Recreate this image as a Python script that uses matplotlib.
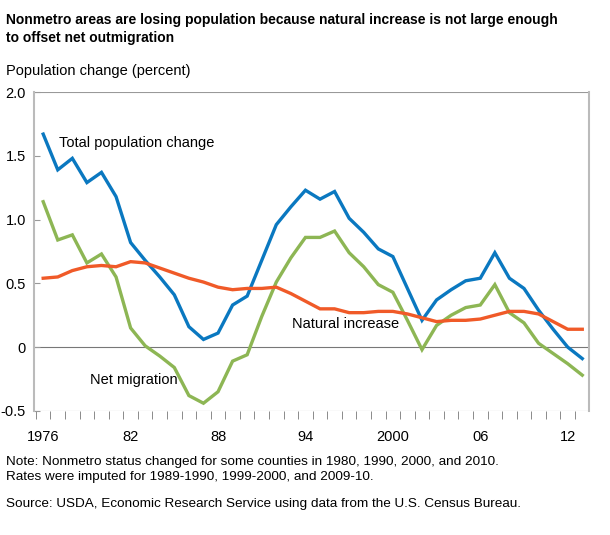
import numpy as np
from matplotlib import pyplot as plt

# Série annuelle 1976-2013 (points tracés en milieu d'année)
years = list(range(1976, 2014))
total_change = [1.67, 1.39, 1.48, 1.29, 1.37, 1.18, 0.82, 0.68, 0.55, 0.41,
                0.16, 0.06, 0.11, 0.33, 0.40, 0.68, 0.96, 1.10, 1.23, 1.16,
                1.22, 1.01, 0.90, 0.77, 0.71, 0.46, 0.21, 0.37, 0.45, 0.52,
                0.54, 0.74, 0.54, 0.46, 0.29, 0.14, 0.00, -0.09]
net_migration = [1.14, 0.84, 0.88, 0.66, 0.73, 0.55, 0.15, 0.01, -0.07, -0.16,
                 -0.38, -0.44, -0.35, -0.11, -0.06, 0.24, 0.51, 0.70, 0.86, 0.86,
                 0.91, 0.74, 0.63, 0.49, 0.43, 0.21, -0.02, 0.17, 0.25, 0.31,
                 0.33, 0.49, 0.27, 0.19, 0.03, -0.05, -0.13, -0.22]
natural_increase = [0.54, 0.55, 0.60, 0.63, 0.64, 0.63, 0.67, 0.66, 0.62, 0.58,
                    0.54, 0.51, 0.47, 0.45, 0.46, 0.46, 0.47, 0.42, 0.36, 0.30,
                    0.30, 0.27, 0.27, 0.28, 0.28, 0.26, 0.23, 0.20, 0.21, 0.21,
                    0.22, 0.25, 0.28, 0.28, 0.26, 0.20, 0.14, 0.14]
tick_years = [1976, 1982, 1988, 1994, 2000, 2006, 2012]
tick_labels = ["1976", "82", "88", "94", "2000", "06", "12"]
y_ticks = [-0.5, 0, 0.5, 1.0, 1.5, 2.0]
y_labels = ["-0.5", "0", "0.5", "1.0", "1.5", "2.0"]

plt.rcParams["font.family"] = ["Liberation Sans", "DejaVu Sans"]

fig = plt.figure(figsize=(6.1, 5.35), dpi=100)
ax = fig.add_axes([0.056, 0.232, 0.910, 0.596])

x = np.array(years) + 0.5
ax.plot(x, total_change, color="#0a78c0", lw=2.4, solid_joinstyle="miter")
ax.plot(x, net_migration, color="#8db654", lw=2.4, solid_joinstyle="miter")
ax.plot(x, natural_increase, color="#f05a28", lw=2.4, solid_joinstyle="miter")

ax.set_xlim(1975.88, 2013.98)
ax.set_ylim(-0.5, 2.0)
ax.axhline(0, color="#777777", lw=0.8, zorder=0)
ax.axhline(2.0, color="#999999", lw=0.8, zorder=0)
ax.axhline(-0.5, color="#999999", lw=0.8, zorder=0)

for side in ["top", "bottom"]:
    ax.spines[side].set_visible(False)
for side in ["left", "right"]:
    ax.spines[side].set_color("#bbbbbb")
    ax.spines[side].set_linewidth(1.5)

ax.set_yticks(y_ticks)
ax.set_yticklabels(y_labels, fontsize=10.5)
ax.tick_params(axis="y", direction="in", length=4, color="#999999", pad=6)
ax.set_xticks(np.array(tick_years) + 0.5)
ax.set_xticklabels(tick_labels, fontsize=10.5)
ax.set_xticks(range(1976, 2014), minor=True)
ax.tick_params(axis="x", which="major", length=0, pad=14)
ax.tick_params(axis="x", which="minor", length=6, color="#777777")

ax.text(1977.6, 1.57, "Total population change", fontsize=10.5)
ax.text(1993.6, 0.15, "Natural increase", fontsize=10.5)
ax.text(1979.7, -0.29, "Net migration", fontsize=10.5)

fig.text(0.01, 0.975, "Nonmetro areas are losing population because natural increase is not large enough\nto offset net outmigration",
         fontsize=10, fontweight="bold", va="top", linespacing=1.3)
fig.text(0.01, 0.88, "Population change (percent)", fontsize=10.5, va="top")
fig.text(0.01, 0.148, "Note: Nonmetro status changed for some counties in 1980, 1990, 2000, and 2010.\n"
         "Rates were imputed for 1989-1990, 1999-2000, and 2009-10.",
         fontsize=9.7, va="top", linespacing=1.4)
fig.text(0.01, 0.07, "Source: USDA, Economic Research Service using data from the U.S. Census Bureau.",
         fontsize=9.7, va="top")

fig.savefig("out.png")
